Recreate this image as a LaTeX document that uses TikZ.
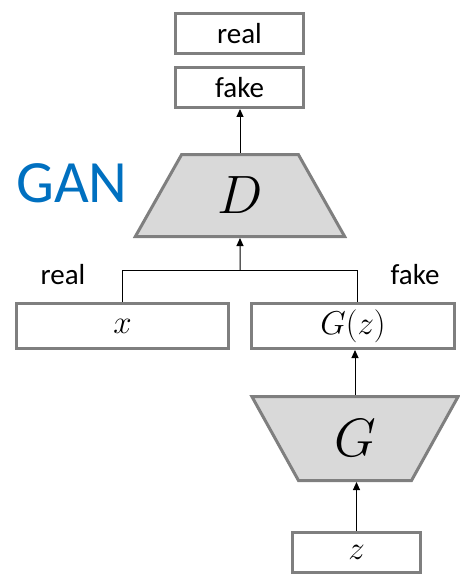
\RequirePackage{fix-cm}
\documentclass[tikz,border=0pt]{standalone}
\usepackage{fix-cm}
\usepackage{fontspec}
\setmainfont{Carlito}
\usetikzlibrary{shapes.geometric,arrows.meta,calc}
\definecolor{boxgray}{HTML}{7F7F7F}
\definecolor{fillgray}{HTML}{D9D9D9}
\definecolor{ganblue}{HTML}{0070C0}
\tikzset{
  outbox/.style={draw=boxgray,line width=3pt,fill=white,inner sep=0pt,minimum width=128pt,minimum height=40pt,font=\fontsize{29}{32}\selectfont},
  inbox/.style={draw=boxgray,line width=3pt,fill=white,inner sep=0pt,minimum height=45pt,font=\fontsize{33}{38}\selectfont},
  net/.style={draw=boxgray,line width=3pt,fill=fillgray,trapezium,trapezium stretches=true,inner sep=0pt,font=\fontsize{54}{60}\selectfont},
  lbl/.style={font=\fontsize{29}{32}\selectfont,inner sep=0pt},
  arr/.style={line width=1pt,-{Triangle[length=8pt,width=7pt]}},
  link/.style={line width=1pt}
}
\begin{document}
\begin{tikzpicture}[x=1pt,y=-1pt]
\useasboundingbox (0,0) rectangle (459,575);
\node[outbox] (real) at (239.5,33.5) {real};
\node[outbox] (fake) at (239.5,87.5) {fake};
\node[net,trapezium left angle=64,trapezium right angle=64,minimum width=211pt,minimum height=82pt] (D) at (240,195.5) {$D$};
\node[font=\fontsize{60}{66}\selectfont,text=ganblue,inner sep=0pt] (gan) at (72,183) {GAN};
\node[inbox,minimum width=212pt] (x) at (122.5,326) {$x$};
\node[inbox,minimum width=203pt] (Gz) at (353,326) {$G(z)$};
\node[net,trapezium left angle=115,trapezium right angle=115,minimum width=207pt,minimum height=84pt] (G) at (355,438.5) {$G$};
\node[outbox,font=\fontsize{33}{38}\selectfont] (z) at (356.5,552) {$z$};
\node[lbl] (lreal) at (63,275) {real};
\node[lbl] (lfake) at (415,275) {fake};
\coordinate (jn) at (240,270);
\draw[arr] (D.north) -- (D.north |- fake.south);
\draw[link] (x.north) |- (jn);
\draw[link] ([xshift=4pt]Gz.north) |- (jn);
\draw[arr] (jn) -- (D.south);
\draw[arr] (G.north) -- (G.north |- Gz.south);
\draw[arr] (z.north) -- (z.north |- G.south);
\end{tikzpicture}
\end{document}
